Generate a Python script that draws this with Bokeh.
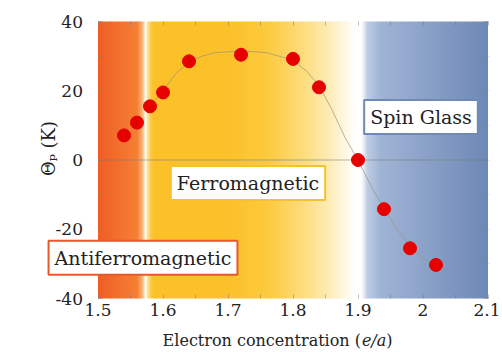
import numpy as np
from math import pi
from bokeh.plotting import figure
from bokeh.models import Range1d, FixedTicker, LinearAxis, Label
from bokeh.embed import file_html
from bokeh.resources import INLINE

# ---- data ----
e_a = [1.54, 1.56, 1.58, 1.60, 1.64, 1.72, 1.80, 1.84, 1.90, 1.94, 1.98, 2.02]
theta_p = [7.1, 10.8, 15.5, 19.5, 28.5, 30.4, 29.2, 21.0, 0.0, -14.2, -25.5, -30.3]

fit_x = [1.58, 1.60, 1.62, 1.64, 1.66, 1.68, 1.72, 1.76, 1.80, 1.82, 1.84,
         1.86, 1.88, 1.90, 1.92, 1.94, 1.96, 1.98, 2.00, 2.02]
fit_y = [15.5, 20.0, 25.0, 28.3, 30.0, 31.0, 31.5, 31.0, 28.8, 25.8, 21.5,
         14.5, 6.5, 0.0, -7.5, -14.0, -20.0, -25.0, -28.5, -30.5]

x_ticks = [1.5, 1.6, 1.7, 1.8, 1.9, 2.0, 2.1]
x_tick_labels = ["1.5", "1.6", "1.7", "1.8", "1.9", "2", "2.1"]
x_minor = [1.55, 1.65, 1.75, 1.85, 1.95, 2.05]
y_ticks = [-40, -20, 0, 20, 40]
y_tick_labels = ["-40", "-20", "0", "20", "40"]
y_minor = [-30, -10, 10, 30]

region_names = ["Antiferromagnetic", "Ferromagnetic", "Spin Glass"]
region_border = ["#e8592a", "#f9c02e", "#6f8ab6"]

# background colour stops (styling)
bg_stops_x = [1.500, 1.560, 1.567, 1.573, 1.578, 1.584, 1.70, 1.76, 1.82, 1.86,
              1.885, 1.895, 1.905, 1.915, 1.935, 2.10]
bg_stops_rgb = [(240, 94, 38), (246, 128, 52), (250, 175, 110), (255, 252, 240),
                (253, 215, 110), (252, 192, 40), (252, 193, 42), (252, 202, 62),
                (253, 222, 130), (254, 238, 190), (255, 250, 236), (255, 255, 255),
                (255, 255, 255), (190, 205, 228), (160, 180, 213), (110, 137, 182)]

FONT = "DejaVu Serif"
W, H = 500, 350

# pixel placement of the data box inside the canvas
X0, X1 = x_ticks[0], x_ticks[-1]
Y0, Y1 = y_ticks[0], y_ticks[-1]
PX0, PX1 = 97.5, 487.5
PY1, PY0 = 21.0, 298.0
kx = (X1 - X0) / (PX1 - PX0)
ky = (Y1 - Y0) / (PY0 - PY1)


def dx(px):
    return X0 + (px - PX0) * kx


def dy(py):
    return Y1 - (py - PY1) * ky


p = figure(width=W, height=H, output_backend="svg", toolbar_location=None,
           x_range=Range1d(dx(0), dx(W)), y_range=Range1d(dy(H), dy(0)),
           min_border=0, x_axis_location=None, y_axis_location=None)
p.outline_line_color = None
p.xgrid.visible = False
p.ygrid.visible = False
p.background_fill_color = "white"
p.border_fill_color = "white"

# gradient background
N = 600
xs = np.linspace(X0, X1, N)
img = np.empty((1, N), dtype=np.uint32)
view = img.view(dtype=np.uint8).reshape((1, N, 4))
for k in range(3):
    view[0, :, k] = np.interp(xs, bg_stops_x, [c[k] for c in bg_stops_rgb]).astype(np.uint8)
view[0, :, 3] = 255
p.image_rgba(image=[img], x=X0, y=Y0, dw=X1 - X0, dh=Y1 - Y0)

# zero line
p.segment(x0=[X0], y0=[0], x1=[X1], y1=[0], line_color="#7a7a7a",
          line_alpha=0.55, line_width=1.2)

# fitted curve and data
p.line(fit_x, fit_y, line_color="#9a9478", line_alpha=0.7, line_width=1)
p.scatter(e_a, theta_p, size=13, fill_color="#e60000", line_color="#e60000")


def make_axis(ticks, minor, labels, loc, show):
    ax = LinearAxis(ticker=FixedTicker(ticks=ticks, minor_ticks=minor),
                    fixed_location=loc)
    ax.axis_line_color = None
    ax.major_tick_in = 4
    ax.major_tick_out = 0
    ax.minor_tick_in = 4
    ax.minor_tick_out = 0
    ax.major_tick_line_color = "#777777"
    ax.major_tick_line_alpha = 0.5
    ax.minor_tick_line_color = "#777777"
    ax.minor_tick_line_alpha = 0.5
    if show:
        ax.major_label_overrides = dict(zip(ticks, labels))
        ax.major_label_text_font = FONT
        ax.major_label_text_font_size = "17px"
        ax.major_label_text_color = "#222222"
    else:
        ax.major_label_text_color = None
    return ax


xb = make_axis(x_ticks, x_minor, x_tick_labels, Y0, True)
xb.major_label_standoff = 5
p.add_layout(xb, "below")
p.add_layout(make_axis(x_ticks, x_minor, x_tick_labels, Y1, False), "above")
yl = make_axis(y_ticks, y_minor, y_tick_labels, X0, True)
yl.major_label_standoff = 15
p.add_layout(yl, "left")
p.add_layout(make_axis(y_ticks, y_minor, y_tick_labels, X1, False), "right")

# axis titles
p.add_layout(Label(x=dx(48), y=dy(148), text="Θₚ (K)", angle=pi / 2,
                   text_align="center", text_baseline="middle",
                   text_font=FONT, text_font_size="18px", text_color="#222222"))
mid = dy(339.5)
p.add_layout(Label(x=dx(392), y=mid, text=")",
                   text_align="right", text_baseline="middle",
                   text_font=FONT, text_font_size="16px", text_color="#222222"))
p.add_layout(Label(x=dx(385.8), y=mid, text="e/a", text_font_style="italic",
                   text_align="right", text_baseline="middle",
                   text_font=FONT, text_font_size="16px", text_color="#222222"))
p.add_layout(Label(x=dx(360.5), y=mid, text="Electron concentration (",
                   text_align="right", text_baseline="middle",
                   text_font=FONT, text_font_size="16px", text_color="#222222"))

# region boxes (centres in canvas pixels)
region_px = [(142.5, 257.2), (247.5, 182.5), (420.5, 116.5)]
for name, (cx, cy), col in zip(region_names, region_px, region_border):
    p.add_layout(Label(x=dx(cx), y=dy(cy), text=name, text_align="center",
                       text_baseline="middle", text_font=FONT,
                       text_font_size="19px", text_color="#222222",
                       background_fill_color="white", border_line_color=col,
                       border_line_width=2, padding=6))

open("out.html", "w").write(file_html(p, INLINE))
